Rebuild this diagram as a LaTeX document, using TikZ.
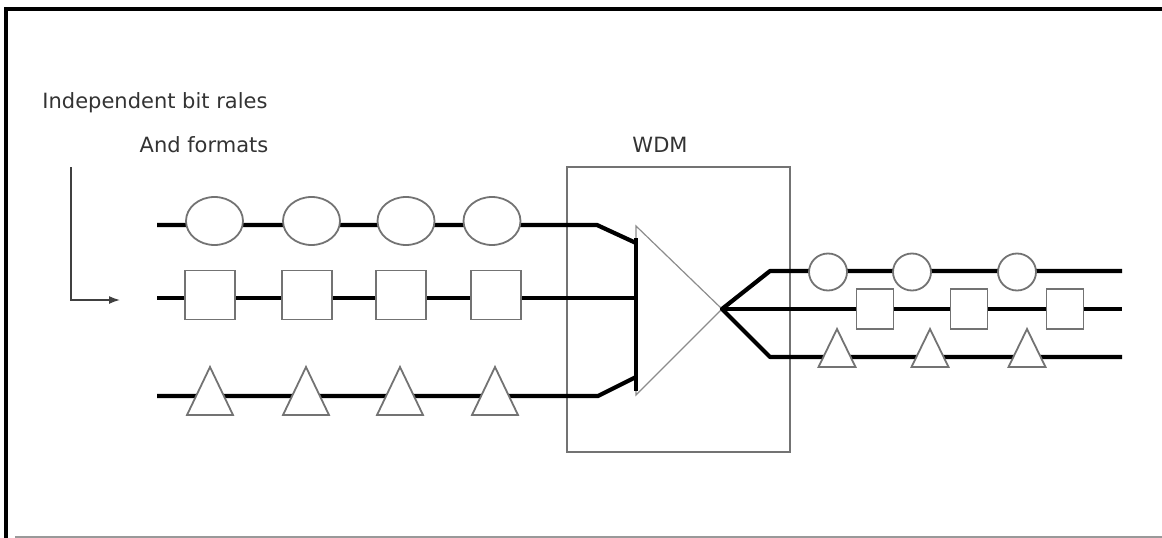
\documentclass[tikz,border=0pt]{standalone}
\usepackage{fontspec}
\setmainfont{DejaVu Sans}
\usetikzlibrary{shapes.geometric,arrows.meta}
\begin{document}
\begin{tikzpicture}[x=1pt,y=-1pt,
  sig/.style={line width=4.2pt, black},
  outl/.style={draw=black!55, line width=1.8pt},
  shp/.style={outl, fill=white, inner sep=0pt},
  ellL/.style={shp, ellipse, minimum width=57pt, minimum height=48pt},
  sqL/.style={shp, rectangle, minimum width=50pt, minimum height=49pt},
  ellR/.style={shp, ellipse, minimum width=38pt, minimum height=37pt},
  sqR/.style={shp, rectangle, minimum width=37pt, minimum height=40pt},
  lbl/.style={font=\fontsize{21}{24}\selectfont, text=black!80, inner sep=0pt},
  pointer/.style={line width=1.5pt, black!75, -{Latex[length=11pt,width=8pt]}}
]
\useasboundingbox (0,0) rectangle (1162,538);
% frame
\draw[line width=3.5pt, line cap=rect] (1162,9) -- (6,9) -- (6,538);
\draw[black!40, line width=2pt] (15,537) -- (1162,537);

% labels
\node[lbl] (t1) at (155,103) {Independent bit rales};
\node[lbl] (t2) at (204,145) {And formats};
\node[lbl] (wdm) at (660,145) {WDM};

% pointer arrow
\coordinate (a1) at (71,167);
\coordinate (a2) at (71,300);
\coordinate (a3) at (120,300);
\draw[pointer] (a1) -- (a2) -- (a3);

% WDM box
\draw[outl] (567,167) rectangle (790,452);

% input lines
\coordinate (i1s) at (157,225); \coordinate (i1b) at (597,225); \coordinate (i1e) at (636,243);
\coordinate (i2s) at (157,298); \coordinate (i2e) at (636,298);
\coordinate (i3s) at (157,396); \coordinate (i3b) at (598,396); \coordinate (i3e) at (636,377);
\draw[sig] (i1s) -- (i1b) -- (i1e);
\draw[sig] (i2s) -- (i2e);
\draw[sig] (i3s) -- (i3b) -- (i3e);

% amplifier triangle
\coordinate (tA) at (636,226);
\coordinate (tB) at (636,395);
\coordinate (apex) at (722,309);
\draw[black!45, line width=1.2pt, line join=miter] (tA) -- (apex) -- (tB) -- cycle;
\coordinate (barT) at (636,238);
\coordinate (barB) at (636,391);
\draw[sig] (barT) -- (barB);

% output lines
\coordinate (o1b) at (770,271); \coordinate (o1e) at (1122,271);
\coordinate (o2e) at (1122,309);
\coordinate (o3b) at (770,357); \coordinate (o3e) at (1122,357);
\draw[sig, line join=round] (o1e) -- (o1b) -- (apex) -- (o3b) -- (o3e);
\draw[sig] (apex) -- (o2e);

% left shapes
\foreach \x [count=\i] in {214.5,311.5,406,492}
  \node[ellL] (le\i) at (\x,221) {};
\foreach \x [count=\i] in {210,307,401,496}
  \node[sqL] (ls\i) at (\x,295) {};
\foreach \x [count=\i] in {210,306,400,495}
  \draw[shp, line join=miter] (\x-23,415) -- (\x,367) -- (\x+23,415) -- cycle;

% right shapes
\foreach \x [count=\i] in {828,912,1017}
  \node[ellR] (re\i) at (\x,272) {};
\foreach \x [count=\i] in {875,969,1065}
  \node[sqR] (rs\i) at (\x,309) {};
\foreach \x [count=\i] in {837,930,1027}
  \draw[shp, line join=miter] (\x-18.5,367) -- (\x,329) -- (\x+18.5,367) -- cycle;
\end{tikzpicture}
\end{document}
